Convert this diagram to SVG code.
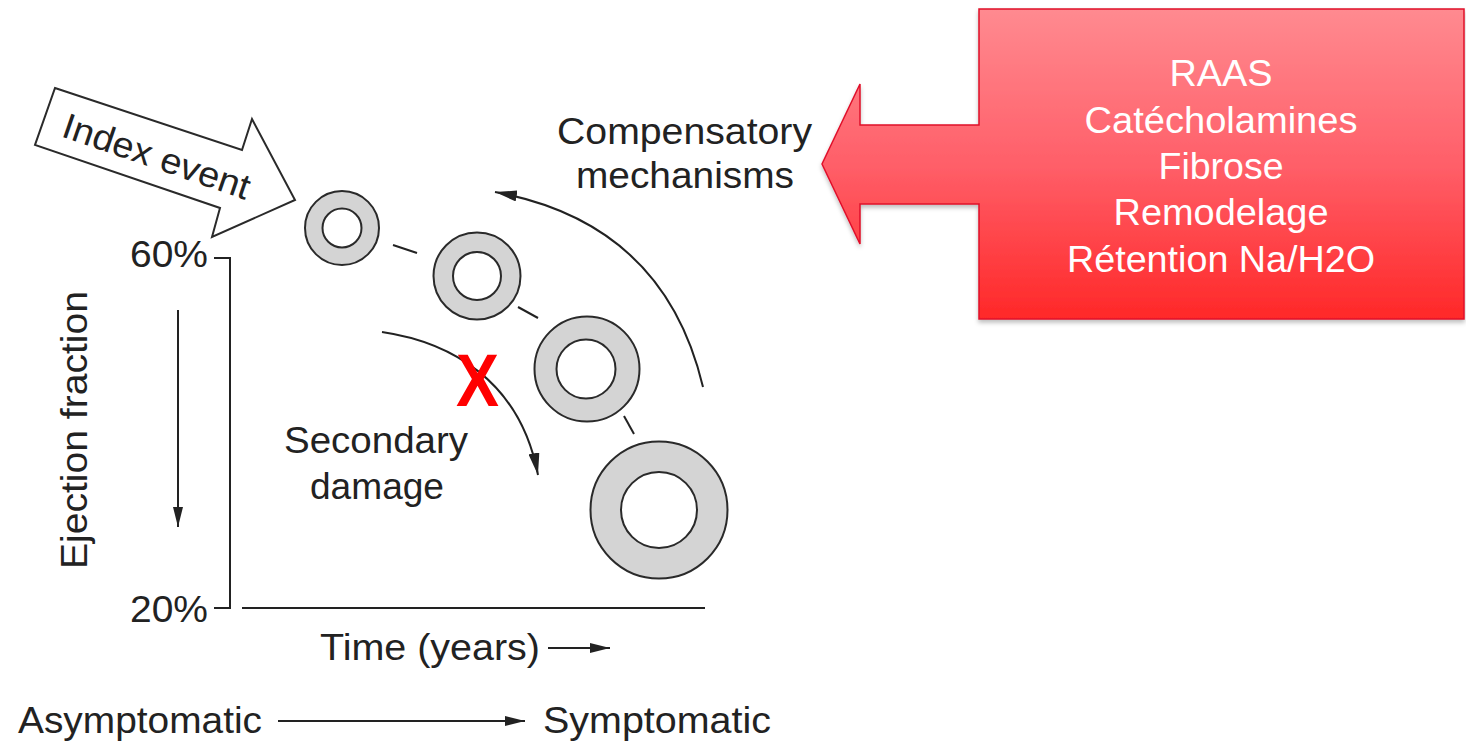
<svg xmlns="http://www.w3.org/2000/svg" width="1466" height="744" viewBox="0 0 1466 744">
  <style>
    .lbl { font-family: "Liberation Sans", Arial, sans-serif; font-size: 36px; fill: #222; }
    .box { font-family: "Liberation Sans", Arial, sans-serif; font-size: 36px; fill: #fff; text-anchor: middle; }
    .ln { stroke: #222; stroke-width: 2; fill: none; }
    .ring { fill: #d4d4d4; stroke: #2a2a2a; stroke-width: 2; }
    .hole { fill: #fff; stroke: #2a2a2a; stroke-width: 2; }
  </style>
  <defs>
    <marker id="ah" viewBox="0 0 20 10" refX="20" refY="5" markerWidth="22" markerHeight="11" markerUnits="userSpaceOnUse" orient="auto">
      <path d="M0,0 L20,5 L0,10 z" fill="#222"/>
    </marker>
    <marker id="ahs" viewBox="0 0 20 10" refX="20" refY="5" markerWidth="20" markerHeight="10" markerUnits="userSpaceOnUse" orient="auto">
      <path d="M0,0 L20,5 L0,10 z" fill="#222"/>
    </marker>
    <linearGradient id="redg" gradientUnits="userSpaceOnUse" x1="0" y1="9" x2="0" y2="319">
      <stop offset="0" stop-color="#ff8a90"/>
      <stop offset="0.5" stop-color="#ff5f69"/>
      <stop offset="1" stop-color="#ff2828"/>
    </linearGradient>
    <filter id="sh" x="-5%" y="-5%" width="115%" height="115%">
      <feDropShadow dx="0" dy="3" stdDeviation="2" flood-color="#000" flood-opacity="0.25"/>
    </filter>
  </defs>

  <!-- Index event arrow -->
  <g id="index-event">
    <polygon points="55,88 242,150 252,119 295,200 212,237 220,208 35,145" fill="#fff" stroke="#2a2a2a" stroke-width="2" stroke-linejoin="miter"/>
    <text class="lbl" x="60" y="136" transform="rotate(19 60 136)" textLength="196" lengthAdjust="spacingAndGlyphs">Index event</text>
  </g>

  <!-- Axes -->
  <g id="axes">
    <polyline class="ln" points="214,258 230,258 230,608 214,608"/>
    <line class="ln" x1="242" y1="608" x2="705" y2="608"/>
    <text class="lbl" x="130" y="267" textLength="78" lengthAdjust="spacingAndGlyphs">60%</text>
    <text class="lbl" x="130" y="622" textLength="78" lengthAdjust="spacingAndGlyphs">20%</text>
    <text class="lbl" x="87" y="430" text-anchor="middle" transform="rotate(-90 87 430)" textLength="278" lengthAdjust="spacingAndGlyphs">Ejection fraction</text>
    <text class="lbl" x="320" y="660" textLength="220" lengthAdjust="spacingAndGlyphs">Time (years)</text>
    <text class="lbl" x="18" y="733" textLength="244" lengthAdjust="spacingAndGlyphs">Asymptomatic</text>
    <text class="lbl" x="543" y="733" textLength="228" lengthAdjust="spacingAndGlyphs">Symptomatic</text>
  </g>

  <!-- Rings -->
  <g id="ring1"><circle class="ring" cx="342" cy="228" r="37"/><circle class="hole" cx="342" cy="228" r="19.5"/></g>
  <g id="ring2"><circle class="ring" cx="477" cy="276" r="43.5"/><circle class="hole" cx="477" cy="276" r="24"/></g>
  <g id="ring3"><circle class="ring" cx="587" cy="369" r="52.5"/><circle class="hole" cx="586" cy="369" r="29.5"/></g>
  <g id="ring4"><circle class="ring" cx="659" cy="510" r="68.5"/><circle class="hole" cx="659" cy="510" r="38"/></g>

  <!-- Labels -->
  <g id="compensatory">
    <text class="lbl" x="557" y="144" textLength="255" lengthAdjust="spacingAndGlyphs">Compensatory</text>
    <text class="lbl" x="576" y="188" textLength="218" lengthAdjust="spacingAndGlyphs">mechanisms</text>
  </g>
  <g id="secondary">
    <text class="lbl" x="284" y="453" textLength="184" lengthAdjust="spacingAndGlyphs">Secondary</text>
    <text class="lbl" x="310" y="499" textLength="134" lengthAdjust="spacingAndGlyphs">damage</text>
  </g>

  <!-- Connectors -->
  <g id="connectors">
    <line class="ln" x1="393" y1="245" x2="417" y2="253"/>
    <line class="ln" x1="518" y1="307" x2="538" y2="318"/>
    <line class="ln" x1="624" y1="416" x2="634" y2="434"/>
    <path class="ln" d="M703,387 C680,290 620,215 495,192" marker-end="url(#ah)"/>
    <path class="ln" d="M382,332 C450,342 520,380 538,475" marker-end="url(#ah)"/>
    <line class="ln" x1="178" y1="310" x2="178" y2="527" marker-end="url(#ahs)"/>
    <line class="ln" x1="548" y1="648" x2="610" y2="648" marker-end="url(#ahs)"/>
    <line class="ln" x1="278" y1="721" x2="525" y2="721" marker-end="url(#ahs)"/>
  </g>

  <!-- Red X -->
  <g id="red-x">
    <text x="456" y="406" font-family="Liberation Sans, Arial, sans-serif" font-weight="bold" font-size="75" fill="#ff0000" textLength="43" lengthAdjust="spacingAndGlyphs">X</text>
  </g>

  <!-- Red callout -->
  <g id="callout">
    <path d="M979,9 H1464 V319 H979 V204 H860 V244 L822,164 L860,84 V125 H979 Z" fill="url(#redg)" stroke="#e0102a" stroke-width="1.5" filter="url(#sh)"/>
    <text class="box" x="1221" y="86" textLength="103" lengthAdjust="spacingAndGlyphs">RAAS</text>
    <text class="box" x="1221" y="133" textLength="273" lengthAdjust="spacingAndGlyphs">Catécholamines</text>
    <text class="box" x="1221" y="179" textLength="125" lengthAdjust="spacingAndGlyphs">Fibrose</text>
    <text class="box" x="1221" y="225" textLength="215" lengthAdjust="spacingAndGlyphs">Remodelage</text>
    <text class="box" x="1221" y="272" textLength="308" lengthAdjust="spacingAndGlyphs">Rétention Na/H2O</text>
  </g>
</svg>
